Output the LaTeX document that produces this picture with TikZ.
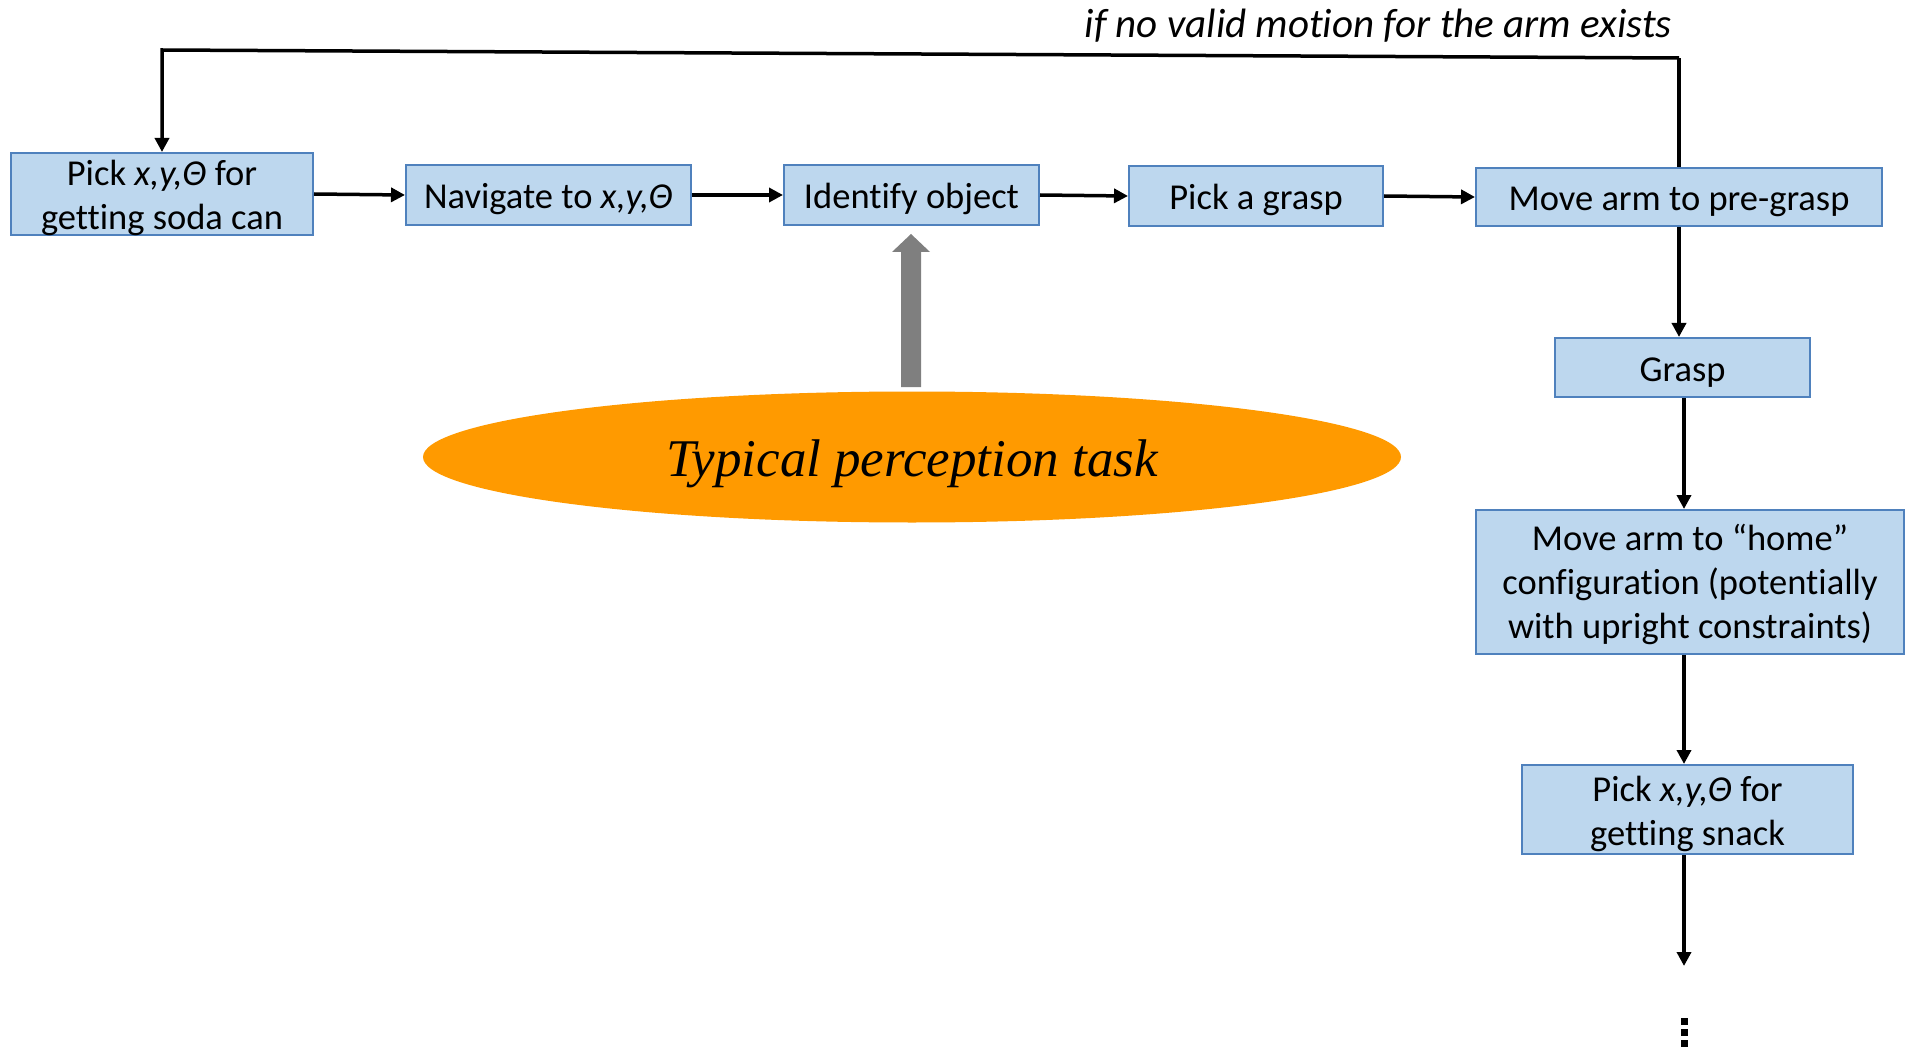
\documentclass[tikz,border=0pt]{standalone}
\usepackage{fontspec}
\setmainfont{Carlito}[Ligatures=NoCommon]
\newfontfamily\serifit{Liberation Serif}
\usetikzlibrary{arrows.meta,shapes.geometric,calc}
\definecolor{boxfill}{HTML}{BDD7EE}
\definecolor{boxline}{HTML}{4F81BD}
\definecolor{orangefill}{HTML}{FF9A00}
\definecolor{arrowgray}{HTML}{7F7F7F}
% stacked lines, set a little below the middle of their box
\newcommand\stackedlines[2][10pt]{%
  \raisebox{0pt}[\height][\dimexpr\depth-#1\relax]{\begin{tabular}{@{}c@{}}#2\end{tabular}}}
\begin{document}
\begin{tikzpicture}[x=1pt,y=-1pt,
  boxbase/.style={draw=boxline,line width=2pt,fill=boxfill,inner sep=0pt,
    font=\fontsize{36.5}{44}\selectfont},
  stepbox/.style={boxbase,execute at begin node={\rule{0pt}{34pt}}},
  multibox/.style={boxbase},
  flow/.style={line width=3.5pt,-{Triangle[length=14pt,width=14pt]}},
  plain/.style={line width=3.5pt}]
\useasboundingbox (0,0) rectangle (1905,1048);

% main row of steps
\node[multibox,minimum width=302pt,minimum height=82pt] (b1) at (162,194)
  {\stackedlines{Pick \textit{x,y,Θ} for\\getting soda can}};
\node[stepbox,minimum width=285pt,minimum height=60pt] (b2) at (548.5,195)
  {Navigate to \textit{x,y,Θ}};
\node[stepbox,minimum width=255pt,minimum height=60pt] (b3) at (911.5,195)
  {Identify object};
\node[stepbox,minimum width=254pt,minimum height=60pt] (b4) at (1256,196)
  {Pick a grasp};
\node[stepbox,minimum width=406pt,minimum height=58pt] (b5) at (1679,197)
  {Move arm to pre-grasp};

% right column of steps
\node[stepbox,minimum width=255pt,minimum height=59pt] (grasp) at (1682.5,367.5)
  {Grasp};
\node[multibox,minimum width=428pt,minimum height=144pt] (home) at (1690,582)
  {\stackedlines[7pt]{Move arm to “home”\\configuration (potentially\\with upright constraints)}};
\node[multibox,minimum width=331pt,minimum height=89pt] (snack) at (1687.5,809.5)
  {\stackedlines{Pick \textit{x,y,Θ} for\\getting snack}};

% perception task highlight
\node[ellipse,fill=orangefill,minimum width=978pt,minimum height=131pt,inner sep=0pt]
  (task) at (912,457) {\serifit\itshape\fontsize{53}{60}\selectfont\raisebox{-19pt}[0pt][0pt]{Typical perception task}};
\coordinate (gbase) at (911,387);
\coordinate (gtip) at (911,234);
\fill[arrowgray] ($(gbase)+(-10,0)$) -- ($(gbase)+(10,0)$) -- (921,252) -- (930,252)
  -- (gtip) -- (892,252) -- (901,252) -- cycle;

% connectors along the row
\draw[flow] (b1.east) -- (b2.west);
\draw[flow] (b2.east) -- (b3.west);
\draw[flow] (b3.east) -- (b4.west);
\draw[flow] (b4.east) -- (b5.west);

% connectors down the column
\draw[flow] (b5.south) -- (b5.south |- grasp.north);
\coordinate (cx) at (1684,0);
\draw[flow] (grasp.south -| cx) -- (home.north -| cx);
\draw[flow] (home.south -| cx) -- (snack.north -| cx);
\coordinate (cont) at (1684,966);
\draw[flow] (snack.south -| cx) -- (cont);
\foreach \yy in {1021,1032,1043}
  \fill (1680.5,\yy-3.5) rectangle (1687.5,\yy+3.5);

% retry loop
\coordinate (loopR) at (1679,58);
\coordinate (loopL) at (162,50);
\draw[plain] (b5.north) -- (loopR);
\draw[flow] (loopR) -- (loopL) -- (b1.north);
\node[anchor=base east,inner sep=0pt,font=\fontsize{41}{48}\selectfont\itshape]
  (cond) at (1672,38) {if no valid motion for the arm exists};
\end{tikzpicture}
\end{document}
